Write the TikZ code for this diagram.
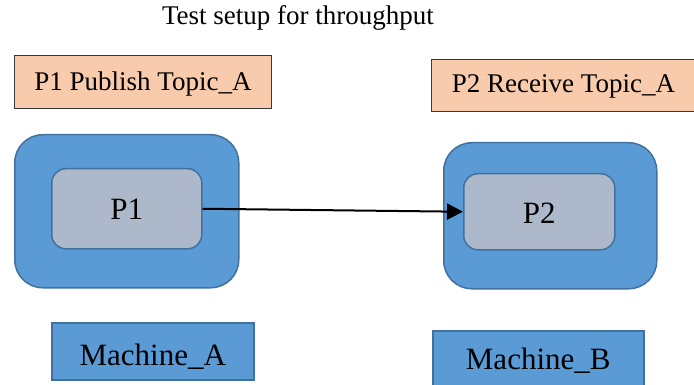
\documentclass[tikz,border=0pt]{standalone}
\usepackage{fontspec}
\setmainfont{Liberation Serif}
\usetikzlibrary{arrows.meta}
\definecolor{hostblue}{HTML}{5B9BD5}
\definecolor{hostedge}{HTML}{41719C}
\definecolor{procfill}{HTML}{ADB9CA}
\definecolor{topicfill}{HTML}{F8CBAD}
\definecolor{topicedge}{HTML}{3A3A3A}
\tikzset{
  plainbox/.style={inner sep=0pt, anchor=north west},
  topicbox/.style={plainbox, draw=topicedge, fill=topicfill, line width=1pt,
    font=\fontsize{27}{30}\selectfont},
  hostbox/.style={plainbox, draw=hostedge, fill=hostblue, line width=1.5pt,
    rounded corners=28pt},
  procbox/.style={plainbox, draw=hostedge, fill=procfill, line width=1.5pt,
    rounded corners=14pt, font=\fontsize{31}{34}\selectfont},
  machbox/.style={plainbox, draw=hostedge, fill=hostblue, line width=1.5pt,
    font=\fontsize{31}{34}\selectfont},
  msgarrow/.style={line width=2pt, -{Triangle[length=16pt,width=16pt]}}
}
\begin{document}
\begin{tikzpicture}[x=1pt,y=-1pt]
\useasboundingbox (0,0) rectangle (694,385);

% heading
\node[anchor=base, inner sep=0pt, font=\fontsize{27}{30}\selectfont] (title) at (298,25) {Test setup for throughput};

% topic labels
\node[topicbox, minimum width=257pt, text height=35pt, text depth=18pt] (pub) at (14,55) {P1 Publish Topic\_A};
\node[topicbox, minimum width=264pt, text height=33pt, text depth=19pt] (recv) at (431,59) {P2 Receive Topic\_A};

% machines with their processes
\node[hostbox, minimum width=224pt, minimum height=153pt] (hostA) at (14,134) {};
\node[hostbox, minimum width=213pt, minimum height=146pt] (hostB) at (443,142) {};
\node[procbox, minimum width=150pt, text height=51pt, text depth=29pt] (p1) at (51,168) {P1};
\node[procbox, minimum width=151pt, text height=50pt, text depth=26pt] (p2) at (463,173) {P2};

% publish path
\draw[msgarrow] (p1.east) -- (p2.west);

% machine names
\node[machbox, minimum width=202pt, text height=43pt, text depth=14pt] (macha) at (51,322) {Machine\_A};
\node[machbox, minimum width=211pt, text height=39pt, text depth=18pt] (machb) at (432,330) {Machine\_B};
\end{tikzpicture}
\end{document}
